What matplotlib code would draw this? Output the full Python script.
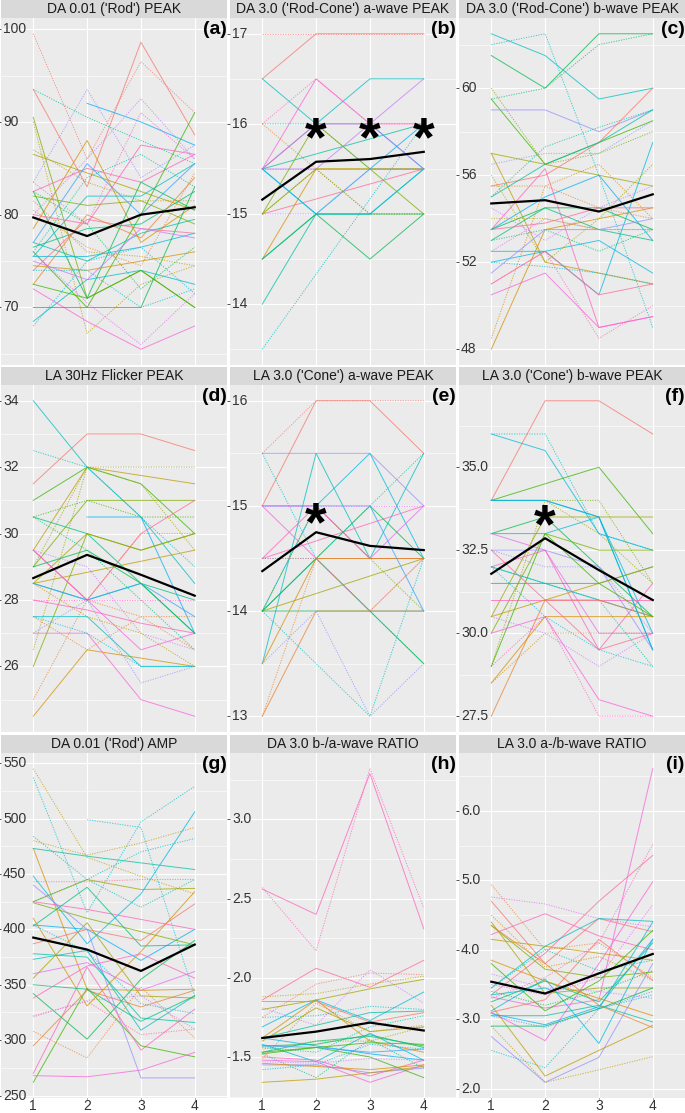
import numpy as np
import matplotlib
matplotlib.use("Agg")
import matplotlib.pyplot as plt
from matplotlib.transforms import offset_copy

nan = np.nan
visits = [1, 2, 3, 4]

# (a) DA 0.01 ('Rod') PEAK
a_vals = [[99.5, 86.0, 96.5, 91.0], [93.5, 83.0, 98.6, 88.6], [93.5, 90.5, 88.0, 85.5], [90.5, 71.0, 74.0, 70.0],
          [90.0, 67.2, 72.5, 74.5], [83.5, 93.5, 84.0, 87.5], [nan, 92.0, 90.0, 87.5], [80.0, 86.0, 92.5, 86.0],
          [78.5, 88.0, 77.0, 81.0], [82.5, 85.0, 83.5, 86.5], [86.5, 84.5, 82.5, 80.5], [87.0, 83.5, 81.5, 81.5],
          [82.5, 71.0, 83.5, 80.5], [82.0, 81.0, 81.5, 79.0], [76.0, 70.0, 80.0, 91.0], [75.5, 82.0, 82.0, 85.5],
          [75.5, 75.5, 76.5, 78.0], [77.0, 85.5, 80.0, 85.5], [83.5, 79.0, 91.0, 86.0], [76.0, 84.0, 86.5, 83.0],
          [80.0, 79.0, 87.5, 86.5], [76.5, 78.5, 79.0, 82.5], [68.5, 73.0, 74.0, 72.5], [68.0, 75.0, 76.5, 71.5],
          [72.0, 68.5, 65.5, 68.0], [76.0, 70.5, 66.0, 71.5], [70.0, 70.0, 70.0, 83.0], [72.5, 71.0, 74.0, 70.0],
          [74.0, 79.5, 78.5, 78.0], [72.5, 80.0, 77.5, 84.0], [74.5, 74.0, 75.0, 76.0], [81.5, 76.0, 75.5, 74.5],
          [77.0, 75.0, 78.0, 79.5], [75.0, 73.0, 78.5, 77.5], [74.0, 74.0, 70.0, 72.0], [82.5, 79.0, 72.0, 76.5],
          [80.5, 76.5, 74.5, 84.5]]
a_subj = [0, 0, 9, 5, 3, 14, 12, 15, 2, 18, 4, 3, 7, 5, 6, 10, 11, 13, 17, 9, 18, 8, 10, 11, 17, 16, 7, 6, 19, 1,
          2, 3, 9, 15, 10, 7, 1]
a_eye = [1, 0, 1, 0, 1, 1, 0, 1, 0, 0, 0, 1, 0, 0, 0, 0, 0, 0, 1, 1, 0, 0, 0, 1, 0, 1, 0, 0, 0, 0, 0, 1, 0, 0, 1, 1, 1]
a_mean = [79.7, 77.7, 80.0, 80.8]

# (b) DA 3.0 ('Rod-Cone') a-wave PEAK
b_vals = [[17, 17, 17, 17], [16.5, 17, 17, 17], [16.5, 16, 16.5, 16.5], [15.5, 16.5, 16, 15.5], [16, 16, 15.5, 15.5],
          [16, 15.5, 15, 15], [15.5, 15.5, 16, 16.5], [15.5, nan, nan, 16], [15, nan, nan, 15.5], [13.5, nan, nan, 16],
          [14, 15, 15, 15.5], [14.5, 15, 14.5, 15], [14.5, 15.5, 15.5, 15.5], [15, 16, 15.5, 15], [15, 15.5, 15.5, 15.5],
          [15.5, 15, 15.5, 16], [15.5, 15, 15, 15.5], [15.5, 16, 16, 15.5], [15, 15, 15.5, 15.5], [15.5, 16, 16, 16],
          [15.5, 15.5, 15.5, 15.5], [14.5, 15, 15, 15], [15, 15.5, 15, 15], [16, 16.5, 16, 16]]
b_subj = [0, 0, 10, 17, 10, 1, 15, 9, 19, 10, 9, 7, 2, 5, 4, 12, 11, 13, 14, 18, 18, 8, 5, 18]
b_eye = [1, 0, 0, 0, 1, 1, 0, 0, 0, 1, 0, 0, 0, 0, 0, 0, 0, 0, 1, 0, 1, 0, 1, 1]
b_mean = [15.16, 15.58, 15.61, 15.69]

# (c) DA 3.0 ('Rod-Cone') b-wave PEAK
c_vals = [[62.5, 61.5, 59.5, 60.0], [62.0, 62.5, 56.0, 49.0], [61.5, 60.0, 62.5, 62.5], [59.5, 60.0, 62.0, 62.5],
          [59.5, 56.5, 57.5, 58.5], [60.0, 56.5, 57.0, 58.0], [59.0, 59.0, 58.0, 59.0], [55.0, 57.3, 58.2, 59.0],
          [57.0, 56.5, 56.0, 55.5], [57.0, 52.0, 51.5, 51.0], [56.5, 57.0, 57.0, 58.5], [55.5, 56.0, 57.5, 60.0],
          [55.5, 55.5, 54.5, 54.0], [53.5, 56.3, 49.0, 49.5], [50.5, 51.5, 49.0, 49.5], [51.0, 52.5, 48.5, 50.0],
          [48.0, 53.5, 54.0, 54.5], [48.5, 55.5, 56.5, 54.0], [52.5, 52.5, 53.0, 51.5], [53.5, 55.0, 56.0, 53.0],
          [52.0, 52.5, 50.5, 57.5], [53.0, 54.5, 53.5, 53.0], [53.5, 54.5, 54.5, 53.5], [56.0, 52.0, 54.0, 56.5],
          [51.5, 53.5, 53.5, 54.0], [52.5, 54.0, 53.5, 53.5], [53.5, 53.8, 54.5, 54.5], [52.0, 51.8, 51.5, 51.0],
          [54.0, 54.0, 53.5, 53.5], [53.0, 53.5, 52.5, 53.5], [55.0, 56.5, 57.5, 59.0], [54.5, 53.0, 54.5, 55.5],
          [51.0, 52.5, 50.5, 51.0]]
c_subj = [10, 10, 7, 8, 6, 5, 14, 9, 4, 3, 14, 0, 1, 18, 17, 18, 2, 2, 11, 12, 11, 8, 7, 4, 14, 16, 19, 11, 3, 8,
          9, 15, 19]
c_eye = [0, 1, 0, 1, 0, 1, 0, 1, 0, 0, 1, 0, 1, 0, 0, 1, 0, 1, 0, 0, 0, 0, 0, 1, 0, 1, 0, 1, 1, 1, 0, 1, 0]
c_mean = [54.7, 54.85, 54.33, 55.12]

# (d) LA 30Hz Flicker PEAK
d_vals = [[34, 32, 30.5, 28.5], [32.5, 32, 30.5, 29], [31.5, 33, 33, 32.5], [29.5, 32, 31.75, 31.5], [29.0, 32, 32, 32],
          [31.0, 32, 31.5, 30.0], [29.0, 31.0, 31.0, 31.0], [30.5, 31.0, 30.5, 30.5], [30.5, 30.0, 28.5, 28.0],
          [nan, 30.5, 30.5, 27.0], [29.5, 28.0, 30.0, 31.0], [29.5, 28.0, 30.0, 30.0], [28.5, 30.0, 29.5, 30.0],
          [28.5, nan, nan, 29.5], [24.5, 26.5, 26.25, 26.0], [25.0, 28.0, 27.5, 27.5], [26.5, 32.0, 31.5, 29.5],
          [26.0, 30.0, 29.5, 30.0], [29.5, 28.0, 26.5, 27.0], [27.0, 27.0, 25.0, 24.5], [28.0, 28.0, 28.0, 28.0],
          [28.0, 27.7, 27.3, 27.0], [27.5, 27.5, 26.0, 26.0], [27.5, 27.0, 26.0, 26.0], [28.5, 28.0, 28.5, 27.0],
          [28.5, 28.0, 28.5, 27.5], [29.5, 29.0, 27.0, 26.5], [29.0, 29.5, 28.5, 27.0], [30.5, 29.5, 28.0, 26.5],
          [27.0, 28.0, 25.5, 26.0], [28.5, 27.5, 27.0, 26.0], [27.5, 26.5, 27.5, 26.5]]
d_subj = [10, 10, 0, 3, 4, 6, 5, 6, 8, 12, 19, 0, 4, 3, 2, 1, 4, 5, 17, 17, 18, 18, 10, 11, 9, 13, 15, 7, 8, 14,
          3, 1]
d_eye = [0, 1, 0, 0, 1, 0, 0, 1, 0, 0, 0, 1, 0, 0, 0, 1, 1, 0, 0, 0, 1, 0, 0, 1, 0, 0, 1, 0, 1, 1, 1, 1]
d_mean = [28.66, 29.36, 28.76, 28.13]

# (e) LA 3.0 ('Cone') a-wave PEAK
e_vals = [[15.0, 16, 16, 15.5], [15.5, 16, 16, 16], [15.5, 15.5, 15.5, 15.0], [15.5, 14.5, 14.0, 13.5],
          [13.5, 15.5, 14.5, 15.5], [14.0, 15.0, 15.5, 14.5], [14.0, 14.5, 14.0, 14.0], [14.5, 15.0, 14.5, 14.5],
          [15.0, 14.5, 14.5, 14.5], [15.0, 15.0, 14.5, 15.0], [14.5, nan, nan, 15.0], [14.0, nan, nan, 14.5],
          [14.0, 15.0, 14.5, 14.0], [14.0, 14.5, 15.0, 14.5], [14.0, 14.0, 14.0, 13.5], [13.5, 14.5, 14.5, 14.5],
          [13.0, 14.0, 14.0, 14.0], [13.0, 14.5, 14.0, 14.5], [14.0, nan, 13.0, 14.5], [13.5, 14.0, 13.0, 13.5],
          [15.0, 15.0, 15.0, 14.0], [14.5, 14.5, 15.0, 15.5], [14.5, 14.5, 14.0, 14.5], [15.0, 15.0, 15.0, 15.0]]
e_subj = [0, 0, 14, 10, 10, 11, 9, 18, 17, 16, 18, 4, 5, 7, 7, 2, 1, 1, 10, 14, 13, 9, 19, 16]
e_eye = [0, 1, 0, 1, 0, 0, 0, 0, 0, 0, 0, 0, 1, 0, 0, 0, 0, 1, 1, 1, 0, 1, 1, 1]
e_mean = [14.38, 14.75, 14.62, 14.58]

# (f) LA 3.0 ('Cone') b-wave PEAK
f_vals = [[34.0, 37.0, 37.0, 36.0], [36.0, 36.0, 33.0, 32.5], [36.0, 35.5, 33.0, 32.5], [34.0, 34.5, 35.0, 33.0],
          [34.0, 34.0, 34.0, 31.5], [34.0, 34.0, 33.5, 29.5], [30.5, 33.5, 33.5, 33.5], [33.0, 33.5, 32.0, 30.5],
          [33.0, 33.0, 33.5, 30.0], [30.0, 33.0, 32.5, 32.5], [33.0, 32.5, 30.0, 30.0], [32.5, 32.5, 32.0, 29.5],
          [32.5, 32.0, 32.0, 30.0], [32.0, 32.5, 29.5, 31.5], [31.5, 31.5, 31.5, 32.0], [32.0, 31.5, 31.0, 29.0],
          [32.0, 31.5, 31.0, 30.5], [31.0, 31.0, 31.0, 31.0], [28.5, 30.5, 30.5, 30.5], [27.5, 31.0, 31.0, 30.5],
          [30.5, 31.0, 31.5, 32.0], [29.0, 34.0, 33.0, 31.5], [29.0, 33.0, 31.5, 30.5], [30.0, 30.5, 28.0, 27.5],
          [29.0, 30.5, 27.5, 27.5], [30.5, 30.0, 29.0, 30.0], [32.5, 31.0, 29.5, 30.0], [32.0, 30.5, 29.5, 29.0],
          [28.5, 30.0, 30.0, 30.0], [34.0, 34.0, 33.5, 29.5]]
f_subj = [0, 10, 11, 6, 5, 9, 4, 7, 11, 5, 16, 14, 14, 18, 8, 9, 10, 18, 2, 1, 3, 4, 6, 17, 18, 15, 19, 11, 2, 12]
f_eye = [0, 1, 0, 0, 1, 0, 0, 0, 0, 0, 0, 0, 1, 0, 0, 1, 0, 0, 0, 0, 0, 1, 0, 0, 1, 1, 0, 1, 1, 0]
f_mean = [31.79, 32.86, 31.9, 31.0]

# (g) DA 0.01 ('Rod') AMP
g_vals = [[545, 465, 448, 432], [537, 415, 497, 529], [nan, 499, 492, 340], [484, 445, 470, 482], [480, 467, 478, 492],
          [473, 466, 460, 454], [473, 346, 345, 346], [448, 387, 432, 506], [404, 400, 372, 400], [425, 445, 436, 437],
          [424, 410, 398, 386], [425, 418, 409, 400], [403, 438, 385, 386], [342, 301, 355, 390], [262, 347, 295, 285],
          [270, 366, 291, 328], [268, 267, 273, 289], [440, 400, 266, 266], [295, 345, 330, 345], [308, 284, 348, 302],
          [322, 335, 305, 310], [373, 381, 309, 340], [356, 406, 340, 338], [410, 331, 380, 434], [425, 445, 420, 445],
          [443, 443, 445, 445], [321, 336, 340, 310], [350, 346, 317, 340], [378, 375, 320, 316], [387, 400, 390, 423],
          [338, 367, 378, 356], [360, 370, 345, 362], [404, 380, 333, 324]]
g_subj = [3, 10, 11, 10, 3, 9, 2, 11, 12, 4, 5, 18, 8, 7, 6, 18, 17, 14, 1, 1, 19, 10, 4, 2, 9, 19, 15, 8, 9, 0,
          18, 16, 11]
g_eye = [1, 1, 1, 1, 1, 0, 0, 0, 0, 0, 0, 0, 0, 0, 0, 0, 0, 0, 0, 1, 1, 0, 0, 0, 1, 1, 1, 0, 0, 0, 0, 0, 1]
g_mean = [392.6, 381.8, 362.5, 386.3]

# (h) DA 3.0 b-/a-wave RATIO
h_vals = [[2.56, 2.40, 3.29, 2.31], [2.57, 2.17, 3.32, 2.44], [1.86, 2.06, 1.94, 2.11], [1.81, 1.70, 2.05, 1.84],
          [1.75, 1.96, 2.03, 2.02], [1.80, 1.86, 1.93, 1.99], [1.88, 1.90, 1.96, 2.01], [1.69, 1.86, 1.73, 1.91],
          [1.62, 1.86, 1.60, 1.53], [1.85, 1.85, 1.72, 1.78], [1.75, 1.76, 1.82, 1.80], [1.62, 1.70, 1.78, 1.79],
          [1.49, 1.84, 1.66, 1.70], [1.57, 1.58, 1.64, 1.56], [1.52, 1.37, 1.61, 1.43], [1.53, 1.60, 1.63, 1.57],
          [1.58, 1.47, 1.65, 1.48], [1.62, 1.57, 1.52, 1.48], [1.45, 1.45, 1.40, 1.43], [1.48, 1.47, 1.34, 1.45],
          [1.50, 1.48, 1.38, 1.48], [1.34, 1.36, 1.40, 1.44], [1.55, 1.60, 1.60, 1.69], [1.53, 1.56, 1.50, 1.37],
          [1.42, 1.45, 1.58, 1.55], [1.47, 1.46, 1.49, 1.48], [1.56, 1.53, 1.69, 1.76], [1.52, 1.56, 1.59, 1.58],
          [1.60, 1.81, 1.66, 1.69], [1.46, 1.44, 1.42, 1.45], [1.57, 1.56, 1.53, 1.55]]
h_subj = [18, 18, 19, 15, 0, 4, 3, 11, 2, 0, 10, 9, 1, 7, 8, 8, 11, 12, 14, 17, 18, 3, 4, 6, 11, 15, 9, 6, 4, 2, 13]
h_eye = [0, 1, 0, 1, 1, 0, 1, 0, 0, 0, 1, 0, 1, 0, 1, 0, 0, 0, 0, 0, 0, 0, 1, 0, 1, 1, 1, 0, 0, 0, 0]
h_mean = [1.62, 1.66, 1.717, 1.667]

# (i) LA 3.0 a-/b-wave RATIO
i_vals = [[3.32, 3.16, 3.28, 6.61], [3.30, 3.60, 4.10, 5.52], [4.22, 4.52, 4.20, 4.00], [3.35, 3.95, 4.70, 5.36],
          [3.10, 2.69, 3.80, 4.98], [4.94, 4.00, 4.10, 3.60], [4.76, 4.66, 4.45, 4.33], [4.70, 3.80, 4.45, 4.26],
          [4.50, 3.75, 3.90, 3.56], [4.40, 3.37, 3.45, 3.45], [4.35, 3.72, 3.60, 3.68], [4.15, 4.05, 3.95, 3.85],
          [3.45, 4.05, 4.45, 4.41], [3.12, 3.58, 2.65, 4.15], [2.75, 2.09, 2.45, 3.80], [3.20, 2.18, 2.55, 2.91],
          [2.90, 2.09, 2.27, 2.46], [2.55, 2.30, 3.15, 3.35], [2.90, 2.90, 3.15, 3.45], [3.05, 3.05, 3.20, 2.96],
          [3.08, 2.92, 3.18, 4.15], [3.80, 3.12, 3.55, 4.28], [3.25, 3.55, 3.25, 4.10], [3.40, 3.20, 3.40, 3.70],
          [3.10, 3.28, 4.15, 3.56], [3.65, 3.45, 3.40, 3.30], [3.50, 3.35, 3.60, 4.65], [3.05, 2.88, 3.15, 3.40],
          [3.35, 3.45, 3.15, 4.40], [3.45, 4.00, 3.70, 3.85], [3.85, 3.55, 3.30, 3.05], [4.35, 3.80, 3.20, 2.88]]
i_subj = [17, 18, 18, 19, 17, 1, 16, 0, 2, 4, 5, 3, 10, 11, 14, 3, 3, 10, 7, 9, 12, 6, 8, 7, 0, 15, 16, 13, 10, 9,
          2, 1]
i_eye = [0, 1, 0, 0, 0, 1, 1, 0, 1, 0, 0, 0, 0, 0, 0, 0, 1, 1, 0, 0, 0, 0, 0, 1, 0, 1, 1, 1, 0, 1, 0, 0]
i_mean = [3.54, 3.37, 3.66, 3.94]

titles = ["DA 0.01 ('Rod') PEAK", "DA 3.0 ('Rod-Cone') a-wave PEAK", "DA 3.0 ('Rod-Cone') b-wave PEAK",
          "LA 30Hz Flicker PEAK", "LA 3.0 ('Cone') a-wave PEAK", "LA 3.0 ('Cone') b-wave PEAK",
          "DA 0.01 ('Rod') AMP", "DA 3.0 b-/a-wave RATIO", "LA 3.0 a-/b-wave RATIO"]
tags = ["(a)", "(b)", "(c)", "(d)", "(e)", "(f)", "(g)", "(h)", "(i)"]
y_breaks = [[70, 80, 90, 100], [14, 15, 16, 17], [48, 52, 56, 60], [26, 28, 30, 32, 34], [13, 14, 15, 16],
            [27.5, 30.0, 32.5, 35.0], [250, 300, 350, 400, 450, 500, 550], [1.5, 2.0, 2.5, 3.0],
            [2.0, 3.0, 4.0, 5.0, 6.0]]
y_fmt = ["{:.0f}", "{:.0f}", "{:.0f}", "{:.0f}", "{:.0f}", "{:.1f}", "{:.0f}", "{:.1f}", "{:.1f}"]
# significance marks (visit, value)
b_stars = [(2, 15.92), (3, 15.92), (4, 15.92)]
e_stars = [(2, 14.9)]
f_stars = [(2, 33.45)]


def hue_pal(n, l=65, c=100):
    # ggplot2 default hue palette (polar LUV -> sRGB)
    h = np.deg2rad(np.linspace(15, 375, n, endpoint=False))
    u, v = c * np.cos(h), c * np.sin(h)
    xn, yn, zn = 95.047, 100.0, 108.883
    un = 4 * xn / (xn + 15 * yn + 3 * zn)
    vn = 9 * yn / (xn + 15 * yn + 3 * zn)
    y = ((l + 16) / 116) ** 3
    up = u / (13 * l) + un
    vp = v / (13 * l) + vn
    x = y * 9 * up / (4 * vp)
    z = y * (12 - 3 * up - 20 * vp) / (4 * vp)
    m = np.array([[3.2404542, -1.5371385, -0.4985314],
                  [-0.9692660, 1.8760108, 0.0415560],
                  [0.0556434, -0.2040259, 1.0572252]])
    rgb = m @ np.vstack([x, np.full_like(x, y), z])
    rgb = np.where(rgb <= 0.0031308, 12.92 * rgb, 1.055 * np.clip(rgb, 0, None) ** (1 / 2.4) - 0.055)
    return np.clip(rgb.T, 0, 1)


pal = hue_pal(20)
plt.rcParams['font.family'] = ['Liberation Sans', 'DejaVu Sans']

W, H = 685, 1113
fig = plt.figure(figsize=(W / 100, H / 100), dpi=100)
col_left = [1, 230, 459]
row_top = [18, 385, 753]
row_h = [347, 347, 345]
pw, sh = 226, 18


def px_axes(left, top, width, height):
    return fig.add_axes([left / W, 1 - (top + height) / H, width / W, height / H])


def draw_panel(k, vals, subj, eye, mean, stars=()):
    r, c = divmod(k, 3)
    ax = px_axes(col_left[c], row_top[r], pw, row_h[r])
    ax.set_facecolor('#EBEBEB')
    for s in ax.spines.values():
        s.set_visible(False)
    vals = np.array(vals, dtype=float)
    x = np.array(visits)
    for row, s, e in zip(vals, subj, eye):
        ok = ~np.isnan(row)
        ax.plot(x[ok], row[ok], color=pal[s], lw=0.7, alpha=0.75,
                ls='-' if e == 0 else (0, (1.2, 1.4)), zorder=2)
    ax.plot(x, mean, color='black', lw=1.6, zorder=4)

    lo = min(np.nanmin(vals), min(mean))
    hi = max(np.nanmax(vals), max(mean))
    pad = 0.05 * (hi - lo)
    ax.set_ylim(lo - pad, hi + pad)
    ax.set_xlim(0.4, 4.6)

    br = y_breaks[k]
    step = br[1] - br[0]
    minor = [m for m in np.arange(br[0] - step / 2, br[-1] + step, step) if lo - pad < m < hi + pad]
    ax.set_yticks(br)
    ax.set_yticks(minor, minor=True)
    ax.set_xticks(visits)
    ax.grid(which='major', color='white', lw=0.8)
    ax.grid(which='minor', axis='y', color='white', lw=0.4)
    ax.set_axisbelow(True)
    ax.tick_params(axis='y', which='major', length=2, width=0.6, color='#333333', labelleft=False)
    ax.tick_params(axis='y', which='minor', length=0)
    for t in br:
        ax.text(0.009, t, y_fmt[k].format(t), transform=ax.get_yaxis_transform(),
                ha='left', va='center', fontsize=10, color='#333333')
    if r == 2:
        ax.tick_params(axis='x', length=1, width=0.6, color='#333333', labelsize=10,
                       labelcolor='#333333', pad=0)
    else:
        ax.tick_params(axis='x', length=0, labelbottom=False)

    ax.text(0.998, 0.992, tags[k], transform=ax.transAxes, ha='right', va='top',
            fontsize=14, fontweight='bold', color='black', zorder=6)
    star_tr = offset_copy(ax.transData, fig=fig, x=0, y=-10, units='dots')
    for sx, sy in stars:
        ax.text(sx, sy, '*', transform=star_tr, ha='center', va='center', fontsize=40,
                fontweight='bold', color='black', zorder=6)

    sax = px_axes(col_left[c], row_top[r] - sh, pw, sh)
    sax.set_facecolor('#D9D9D9')
    sax.set_xticks([])
    sax.set_yticks([])
    for s in sax.spines.values():
        s.set_visible(False)
    sax.text(0.5, 0.5, titles[k], transform=sax.transAxes, ha='center', va='center',
             fontsize=10, color='#1A1A1A')
    return ax


draw_panel(0, a_vals, a_subj, a_eye, a_mean)
draw_panel(1, b_vals, b_subj, b_eye, b_mean, b_stars)
draw_panel(2, c_vals, c_subj, c_eye, c_mean)
draw_panel(3, d_vals, d_subj, d_eye, d_mean)
draw_panel(4, e_vals, e_subj, e_eye, e_mean, e_stars)
draw_panel(5, f_vals, f_subj, f_eye, f_mean, f_stars)
draw_panel(6, g_vals, g_subj, g_eye, g_mean)
draw_panel(7, h_vals, h_subj, h_eye, h_mean)
draw_panel(8, i_vals, i_subj, i_eye, i_mean)

fig.savefig("out.png", dpi=100)
